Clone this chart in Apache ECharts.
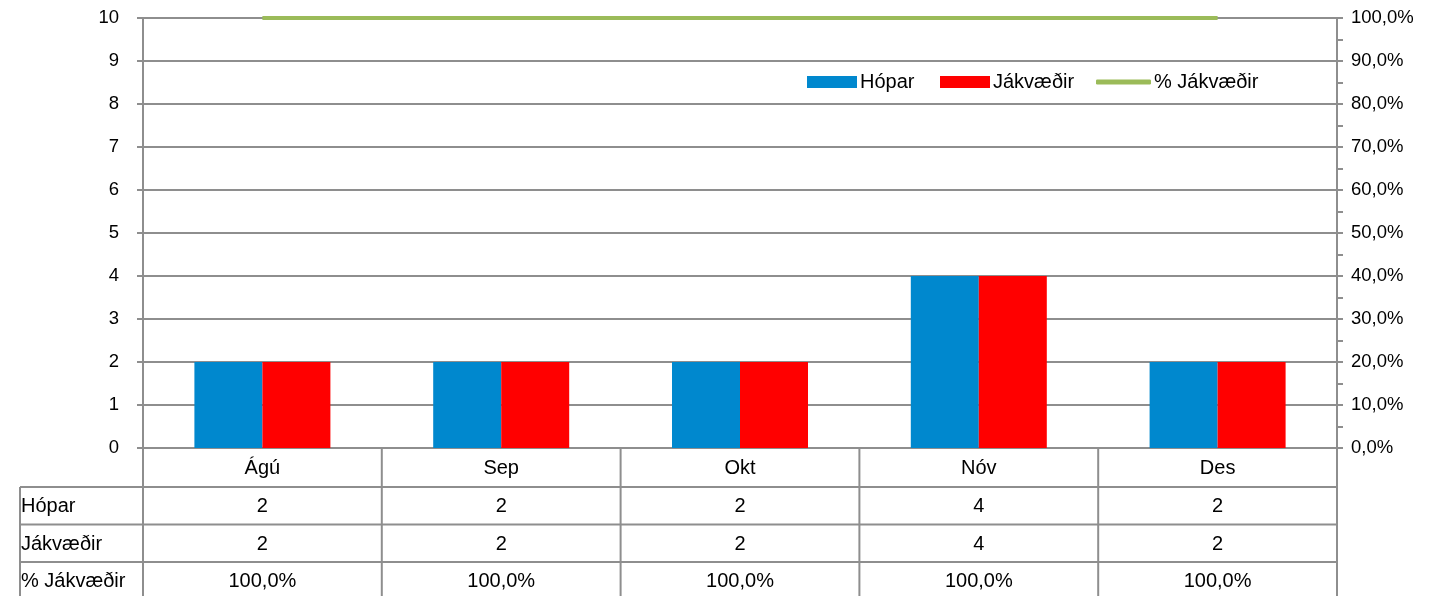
<!DOCTYPE html>
<html>
<head>
<meta charset="utf-8">
<script src="https://cdn.jsdelivr.net/npm/echarts@6/dist/echarts.min.js"></script>
<style>
html,body{margin:0;padding:0;background:#fff;}
#c{width:1429px;height:596px;}
</style>
</head>
<body>
<div id="c"></div>
<script>
const categories = ['Ágú', 'Sep', 'Okt', 'Nóv', 'Des'];
const hopar = [2, 2, 2, 4, 2];
const jakvaedir = [2, 2, 2, 4, 2];
const pctJakvaedir = [1.0, 1.0, 1.0, 1.0, 1.0];
const seriesNames = ['Hópar', 'Jákvæðir', '% Jákvæðir'];

const FONT = "'Liberation Sans', Arial, sans-serif";
const GRAY = '#8e8e8e';
const BLUE = '#0088CE', RED = '#FF0000', GREEN = '#9BBB59';
const fmtPct = v => (v * 100).toFixed(1).replace('.', ',') + '%';

const legendText = {fontFamily: FONT, fontSize: 20, color: '#000', padding: [0, 0, 0, -2]};
function legendFor(name, left, opts) {
  return Object.assign({
    left: left, top: 72, padding: 0,
    itemWidth: 50, itemHeight: 12,
    textStyle: legendText,
    data: [{name: name}]
  }, opts || {});
}

const chart = echarts.init(document.getElementById('c'), null, {renderer: 'canvas'});
const option = {
  animation: false,
  textStyle: {fontFamily: FONT, color: '#000'},
  grid: {left: 143, right: 92, top: 18, bottom: 148, containLabel: false},
  legend: [
    legendFor(seriesNames[0], 807, {icon: 'rect'}),
    legendFor(seriesNames[1], 940, {icon: 'rect'}),
    legendFor(seriesNames[2], 1096, {icon: 'roundRect', itemWidth: 55, itemHeight: 5})
  ],
  xAxis: {
    type: 'category', data: categories,
    axisLine: {show: true, lineStyle: {color: GRAY, width: 2}},
    axisTick: {show: false},
    axisLabel: {show: false},
    splitLine: {show: false}
  },
  yAxis: [
    {
      type: 'value', min: 0, max: 10, interval: 1,
      axisLine: {show: true, lineStyle: {color: GRAY, width: 2}},
      axisTick: {show: true, length: 6, lineStyle: {color: GRAY, width: 2}},
      axisLabel: {fontFamily: FONT, fontSize: 18.5, color: '#000', margin: 24},
      splitLine: {show: true, lineStyle: {color: GRAY, width: 2}}
    },
    {
      type: 'value', min: 0, max: 1, interval: 0.1,
      axisLine: {show: true, lineStyle: {color: GRAY, width: 2}},
      axisTick: {show: true, length: 6, lineStyle: {color: GRAY, width: 2}},
      minorTick: {show: true, splitNumber: 2, length: 6, lineStyle: {color: GRAY, width: 2}},
      axisLabel: {fontFamily: FONT, fontSize: 18.5, color: '#000', margin: 14, formatter: fmtPct},
      splitLine: {show: false}
    }
  ],
  series: [
    {name: seriesNames[0], type: 'bar', data: hopar, barWidth: 68, barGap: '0%',
     itemStyle: {color: BLUE}},
    {name: seriesNames[1], type: 'bar', data: jakvaedir, barWidth: 68, barGap: '0%',
     itemStyle: {color: RED}},
    {name: seriesNames[2], type: 'line', yAxisIndex: 1, data: pctJakvaedir,
     symbol: 'none', z: 5, lineStyle: {color: GREEN, width: 4}, itemStyle: {color: GREEN}}
  ]
};
chart.setOption(option);

// Data table under the chart, built from the arrays above
function buildTable() {
  const c0 = chart.convertToPixel({xAxisIndex: 0}, categories[0]);
  const c1 = chart.convertToPixel({xAxisIndex: 0}, categories[1]);
  const band = c1 - c0;
  const y0 = chart.convertToPixel({yAxisIndex: 0}, 0);
  const leftX = c0 - band / 2;
  const rightX = leftX + band * categories.length;
  const tableLeft = 20;
  const rowH = 37.5;
  const catRowH = 39;
  const rows = [
    {label: seriesNames[0], vals: hopar.map(String)},
    {label: seriesNames[1], vals: jakvaedir.map(String)},
    {label: seriesNames[2], vals: pctJakvaedir.map(fmtPct)}
  ];
  const els = [];
  const ls = {stroke: GRAY, lineWidth: 2};
  const tableBottom = y0 + catRowH + rowH * rows.length + 2;
  els.push({type: 'line', shape: {x1: leftX, y1: y0, x2: leftX, y2: tableBottom}, style: ls, silent: true});
  for (let i = 1; i <= categories.length; i++) {
    const x = leftX + band * i;
    els.push({type: 'line', shape: {x1: x, y1: y0, x2: x, y2: tableBottom}, style: ls, silent: true});
  }
  els.push({type: 'line', shape: {x1: tableLeft, y1: y0 + catRowH, x2: tableLeft, y2: tableBottom}, style: ls, silent: true});
  for (let r = 0; r <= rows.length; r++) {
    const y = y0 + catRowH + rowH * r;
    els.push({type: 'line', shape: {x1: tableLeft, y1: y, x2: rightX, y2: y}, style: ls, silent: true});
  }
  const ts = {fontFamily: FONT, fontSize: 20, fill: '#000', verticalAlign: 'middle'};
  categories.forEach((cat, i) => {
    els.push({type: 'text', x: leftX + band * (i + 0.5), y: y0 + catRowH / 2 + 1,
      style: Object.assign({text: cat, align: 'center'}, ts), silent: true});
  });
  rows.forEach((row, r) => {
    const yc = y0 + catRowH + rowH * (r + 0.5) + 1;
    els.push({type: 'text', x: tableLeft + 1, y: yc,
      style: Object.assign({text: row.label, align: 'left'}, ts), silent: true});
    row.vals.forEach((v, i) => {
      els.push({type: 'text', x: leftX + band * (i + 0.5), y: yc,
        style: Object.assign({text: v, align: 'center'}, ts), silent: true});
    });
  });
  chart.setOption({graphic: {elements: els}});
}
buildTable();
</script>
</body>
</html>
